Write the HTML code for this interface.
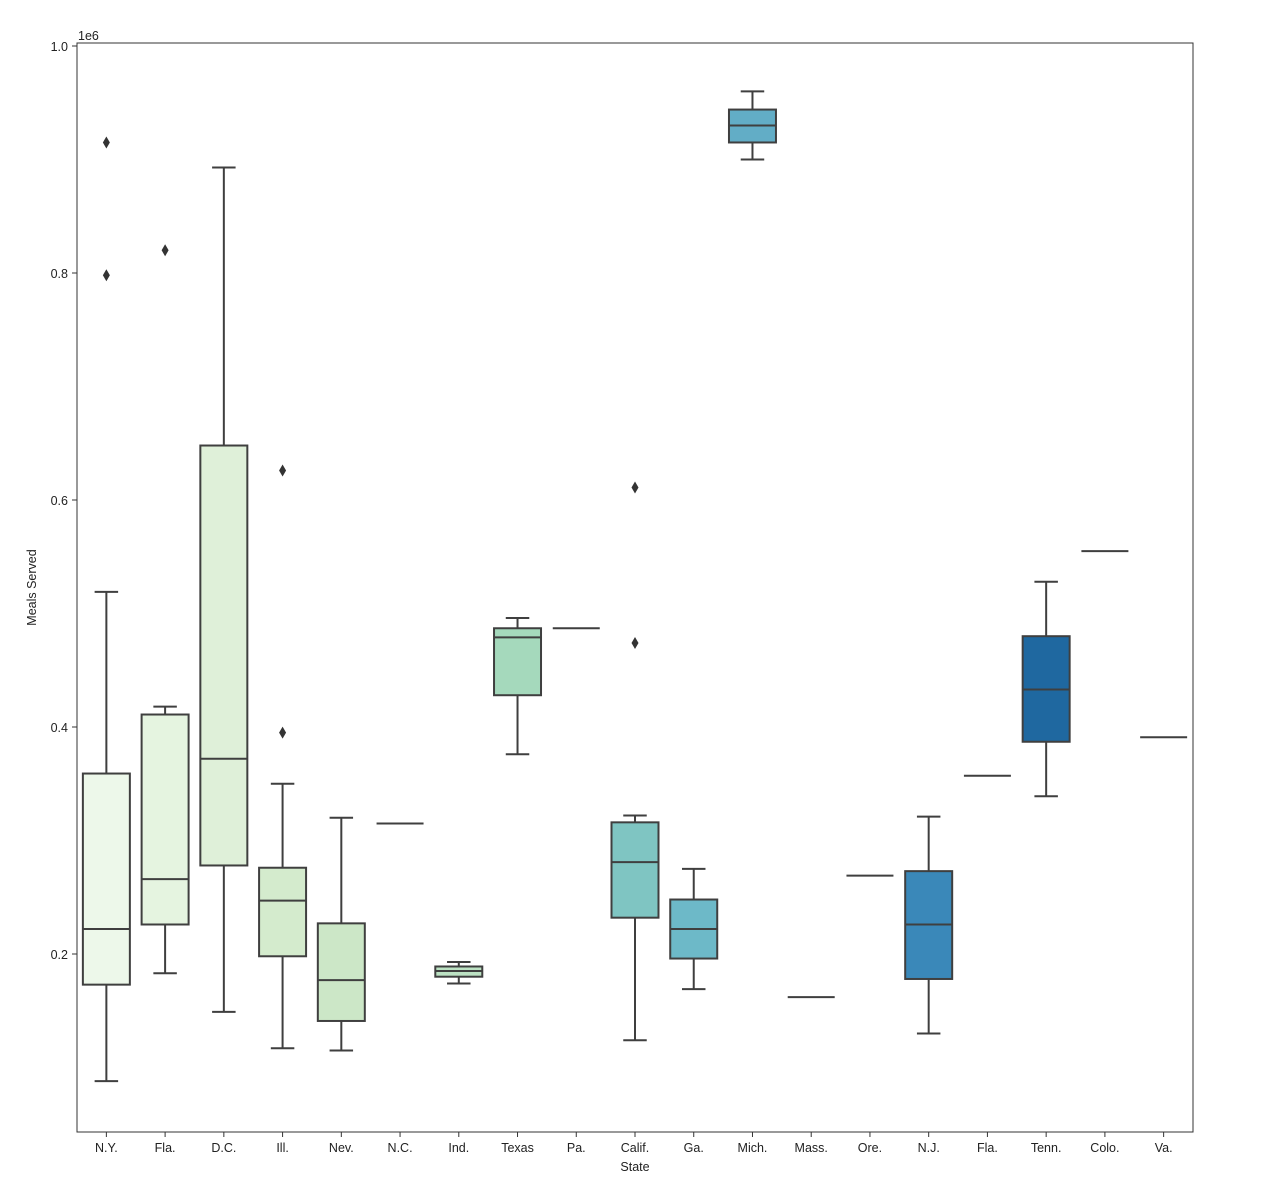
<!DOCTYPE html>
<html><head><meta charset="utf-8"><style>
body{margin:0;background:#fff;font-family:"Liberation Sans",sans-serif}
svg text{font-family:"Liberation Sans",sans-serif;fill:#222}
</style></head><body>
<svg id="chart" width="1266" height="1190" xmlns="http://www.w3.org/2000/svg"></svg>
<script>
const categories=["N.Y.","Fla.","D.C.","Ill.","Nev.","N.C.","Ind.","Texas","Pa.","Calif.","Ga.","Mich.","Mass.","Ore.","N.J.","Fla.","Tenn.","Colo.","Va."];
const whiskerLow=[0.088,0.183,0.149,0.117,0.115,0.315,0.174,0.376,0.487,0.124,0.169,0.900,0.162,0.269,0.130,0.357,0.339,0.555,0.391];
const q1=[0.173,0.226,0.278,0.198,0.141,0.315,0.180,0.428,0.487,0.232,0.196,0.915,0.162,0.269,0.178,0.357,0.387,0.555,0.391];
const medians=[0.222,0.266,0.372,0.247,0.177,0.315,0.185,0.479,0.487,0.281,0.222,0.930,0.162,0.269,0.226,0.357,0.433,0.555,0.391];
const q3=[0.359,0.411,0.648,0.276,0.227,0.315,0.189,0.487,0.487,0.316,0.248,0.944,0.162,0.269,0.273,0.357,0.480,0.555,0.391];
const whiskerHigh=[0.519,0.418,0.893,0.350,0.320,0.315,0.193,0.496,0.487,0.322,0.275,0.960,0.162,0.269,0.321,0.357,0.528,0.555,0.391];
const outliers=[[0.798,0.915],[0.820],[],[0.395,0.626],[],[],[],[],[],[0.474,0.611],[],[],[],[],[],[],[],[],[]];
const colors=["#edf8ea","#e5f4e0","#dff0d9","#d4ebcd","#cce7c7","#c3e4c1","#bce2c3","#a5d9bc","#96d3bd","#7fc5c2","#6db9c8","#62adc6","#4da0c8","#4394c2","#3a88b9","#2e7db2","#1f68a0","#166099","#105890"];
const yTicks=[0.2,0.4,0.6,0.8,1.0];
const L=77,R=1193,T=43,B=1132;
const band=(R-L)/categories.length;
const xC=i=>L+band*(i+0.5);
const y=v=>954-(v-0.2)*1135;
const svg=document.getElementById('chart');
const NS="http://www.w3.org/2000/svg";
function mk(tag,attrs,parent){const e=document.createElementNS(NS,tag);for(const k in attrs)e.setAttribute(k,attrs[k]);(parent||svg).appendChild(e);return e;}
const stroke="#3f3f3f";
categories.forEach((c,i)=>{
  const g=mk('g',{});
  
  
  const x=xC(i),hw=band*0.4,cw=band*0.2;
  if(whiskerLow[i]===whiskerHigh[i]){
    mk('line',{x1:x-hw,x2:x+hw,y1:y(medians[i]),y2:y(medians[i]),stroke:stroke,'stroke-width':2},g);
  } else {
    mk('line',{x1:x,x2:x,y1:y(whiskerLow[i]),y2:y(q1[i]),stroke:stroke,'stroke-width':2},g);
    mk('line',{x1:x,x2:x,y1:y(q3[i]),y2:y(whiskerHigh[i]),stroke:stroke,'stroke-width':2},g);
    mk('line',{x1:x-cw,x2:x+cw,y1:y(whiskerLow[i]),y2:y(whiskerLow[i]),stroke:stroke,'stroke-width':2},g);
    mk('line',{x1:x-cw,x2:x+cw,y1:y(whiskerHigh[i]),y2:y(whiskerHigh[i]),stroke:stroke,'stroke-width':2},g);
    mk('rect',{x:x-hw,y:y(q3[i]),width:2*hw,height:y(q1[i])-y(q3[i]),fill:colors[i],stroke:stroke,'stroke-width':2},g);
    mk('line',{x1:x-hw,x2:x+hw,y1:y(medians[i]),y2:y(medians[i]),stroke:stroke,'stroke-width':2},g);
  }
  outliers[i].forEach(v=>{
    const p=mk('path',{d:`M${x} ${y(v)-6}L${x+3.5} ${y(v)}L${x} ${y(v)+6}L${x-3.5} ${y(v)}Z`,fill:"#333"},g);
    
    
  });
  mk('line',{x1:x,x2:x,y1:B,y2:B+5,stroke:"#333",'stroke-width':1});
  const t=mk('text',{x:x,y:B+20,'font-size':12.5,'text-anchor':'middle'});
  t.textContent=c;
  
  
});
yTicks.forEach(v=>{
  mk('line',{x1:L-5,x2:L,y1:y(v),y2:y(v),stroke:"#333",'stroke-width':1});
  const t=mk('text',{x:L-9,y:y(v)+5,'font-size':12.5,'text-anchor':'end'});
  t.textContent=v.toFixed(1);
  
  
});
const frame=mk('rect',{x:L,y:T,width:R-L,height:B-T,fill:'none',stroke:'#333','stroke-width':1});


const ex=mk('text',{x:L+1,y:T-3,'font-size':12.5});ex.textContent="1e6";


const xt=mk('text',{x:(L+R)/2,y:1171,'font-size':12.5,'text-anchor':'middle'});xt.textContent="State";


const yt=mk('text',{x:0,y:0,'font-size':12.5,'text-anchor':'middle',transform:`translate(36,${(T+B)/2}) rotate(-90)`});yt.textContent="Meals Served";


</script>
</body></html>
